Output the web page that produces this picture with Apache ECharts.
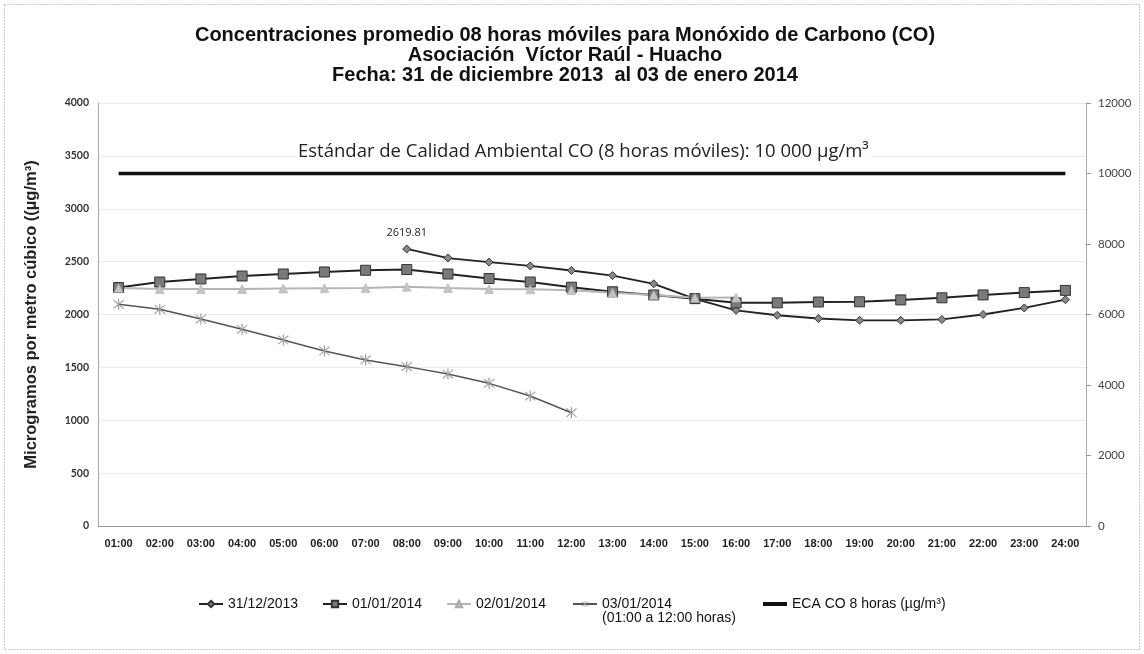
<!DOCTYPE html>
<html>
<head>
<meta charset="utf-8">
<script src="https://cdn.jsdelivr.net/npm/echarts@6/dist/echarts.min.js"></script>
<style>html,body{margin:0;padding:0;background:#fff}#c{width:1144px;height:654px}</style>
</head>
<body>
<div id="c"></div>
<script>
const categories = ['01:00','02:00','03:00','04:00','05:00','06:00','07:00','08:00','09:00','10:00','11:00','12:00','13:00','14:00','15:00','16:00','17:00','18:00','19:00','20:00','21:00','22:00','23:00','24:00'];
const s31122013 = [null,null,null,null,null,null,null,2619.81,2534,2496,2459,2416,2368,2290,2148,2040,1993,1962,1945,1945,1953,2000,2062,2140];
const s01012014 = [2255,2307,2336,2364,2383,2402,2418,2425,2383,2340,2307,2258,2215,2185,2150,2110,2110,2118,2120,2138,2158,2185,2207,2228];
const s02012014 = [2250,2240,2240,2242,2245,2248,2250,2262,2250,2240,2238,2230,2205,2185,2158,2160,null,null,null,null,null,null,null,null];
const s03012014 = [2096,2049,1957,1860,1759,1655,1570,1507,1437,1349,1229,1071,null,null,null,null,null,null,null,null,null,null,null,null];
const ecaCO = [10000,10000,10000,10000,10000,10000,10000,10000,10000,10000,10000,10000,10000,10000,10000,10000,10000,10000,10000,10000,10000,10000,10000,10000];
const names = ['31/12/2013','01/01/2014','02/01/2014','03/01/2014','ECA CO 8 horas (µg/m³)'];
const subNote = '(01:00 a 12:00 horas)';

const asterisk = 'path://M-0.45,-5L0.45,-5L0.45,5L-0.45,5Z M-4.2,-3.6L-3.6,-4.2L4.2,3.6L3.6,4.2Z M3.6,-4.2L4.2,-3.6L-3.6,4.2L-4.2,3.6Z';
const chart = echarts.init(document.getElementById('c'));
const legendText = {fontFamily:'Liberation Sans, Arial', fontSize:14, color:'#111'};
function lg(name, left, extra){
  return Object.assign({data:[name], left:left, top:597, itemWidth:24, itemHeight:8, itemGap:0, textStyle:legendText, padding:0, selectedMode:false}, extra || {});
}
chart.setOption({
  animation:false,
  backgroundColor:'#fff',
  title:{
    text:'Concentraciones promedio 08 horas móviles para Monóxido de Carbono (CO)\nAsociación  Víctor Raúl - Huacho\nFecha: 31 de diciembre 2013  al 03 de enero 2014',
    left:560, top:20, textAlign:'center',
    textStyle:{fontFamily:'Liberation Sans, Arial', fontWeight:'bold', fontSize:20, lineHeight:20, color:'#111'}
  },
  graphic:[
    {type:'rect', shape:{x:4.5,y:4.5,width:1135,height:645}, style:{fill:null, stroke:'#999', lineWidth:1, lineDash:[1,2]}, silent:true},
    {type:'text', left:296, top:141, z:10, style:{text:'Estándar de Calidad Ambiental CO (8 horas móviles): 10 000 µg/m³', fontFamily:'Open Sans', fontSize:18.5, fill:'#222', backgroundColor:'#fff', padding:[1,2]}},
    {type:'text', left:602, top:611, style:{text:subNote, fontFamily:'Liberation Sans, Arial', fontSize:14, fill:'#111'}}
  ],
  legend:[lg(names[0],198), lg(names[1],322), lg(names[2],446), lg(names[3],572),
          lg(names[4],763,{itemHeight:4, icon:'rect'})],
  grid:{left:98, right:58, top:103, bottom:128},
  xAxis:{
    type:'category', data:categories, boundaryGap:true,
    axisLine:{lineStyle:{color:'#999'}}, axisTick:{show:false},
    axisLabel:{fontFamily:'Liberation Sans, Arial', fontWeight:'bold', fontSize:11, color:'#222', margin:12, interval:0}
  },
  yAxis:[
    {type:'value', min:0, max:4000, interval:500,
     name:'Microgramos por metro cúbico ((µg/m³)', nameLocation:'middle', nameGap:58,
     nameTextStyle:{fontFamily:'Liberation Sans, Arial', fontWeight:'bold', fontSize:16.5, color:'#222'},
     axisLine:{show:true, lineStyle:{color:'#aaa'}}, axisTick:{show:false},
     axisLabel:{fontFamily:'Lato', fontWeight:'bold', fontSize:10.5, color:'#333', margin:9, formatter:v => String(v)},
     splitLine:{show:true, lineStyle:{color:'#ebebeb'}}},
    {type:'value', min:0, max:12000, interval:2000, position:'right',
     axisLine:{show:true, lineStyle:{color:'#999', type:'dotted'}}, axisTick:{show:true, length:5, lineStyle:{color:'#999'}},
     axisLabel:{fontFamily:'Lato', fontSize:11.5, color:'#444', margin:12, formatter:v => String(v)},
     splitLine:{show:false}}
  ],
  series:[
    {name:names[0], type:'line', data:s31122013, symbol:'diamond', symbolSize:8,
     lineStyle:{color:'#222', width:1.8}, itemStyle:{color:'#888', borderColor:'#333', borderWidth:1},
     label:{show:true, position:'top', distance:6, fontFamily:'Open Sans', fontSize:11, color:'#222',
       formatter:p => p.dataIndex === 7 ? p.value : ''}},
    {name:names[1], type:'line', data:s01012014, symbol:'rect', symbolSize:10,
     lineStyle:{color:'#222', width:2}, itemStyle:{color:'#7a7a7a', borderColor:'#333', borderWidth:1}},
    {name:names[2], type:'line', data:s02012014, symbol:'triangle', symbolSize:9,
     lineStyle:{color:'#b5b5b5', width:2}, itemStyle:{color:'#c4c4c4', borderColor:'#aaa', borderWidth:0.5}},
    {name:names[3], type:'line', data:s03012014, symbol:asterisk, symbolSize:11,
     lineStyle:{color:'#555', width:1.5}, itemStyle:{color:'#999', borderWidth:0}},
    {name:names[4], type:'line', yAxisIndex:1, data:ecaCO, symbol:'none', showSymbol:false,
     lineStyle:{color:'#111', width:3.5}, itemStyle:{color:'#111'}}
  ]
});
</script>
</body>
</html>
